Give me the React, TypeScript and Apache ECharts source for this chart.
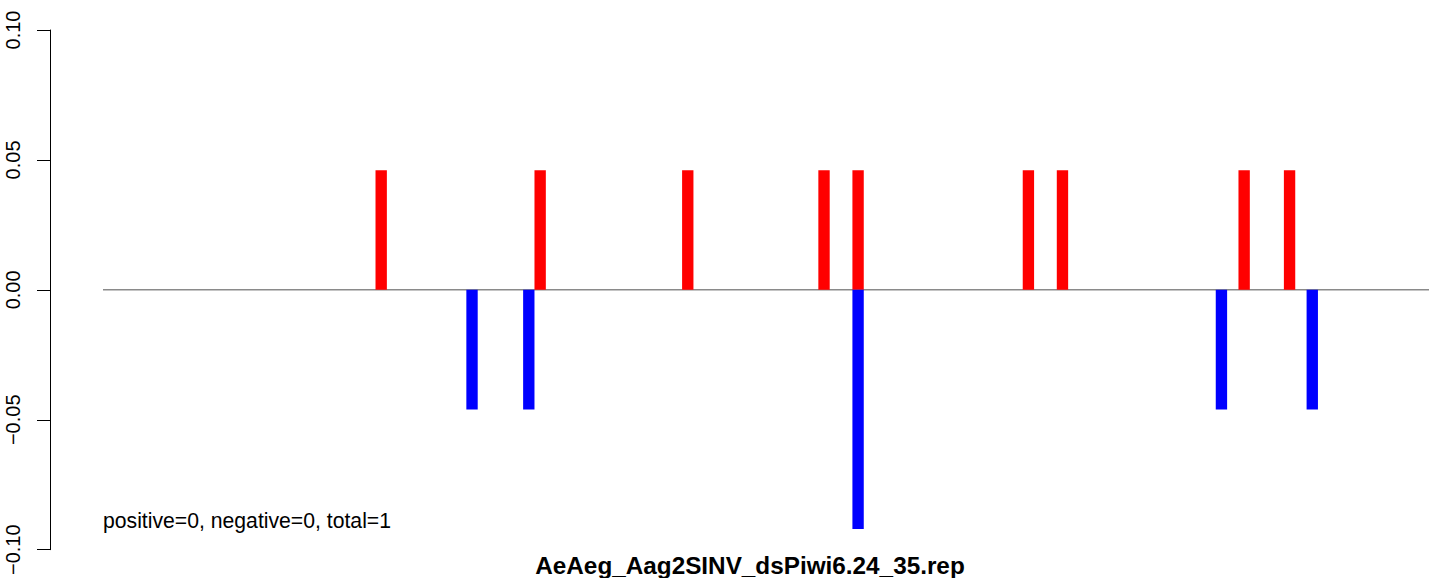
import React, { useEffect, useRef } from "react";
import * as echarts from "echarts";

// Positions (1-based, bar spans [p-1, p]) and values
const redPositions = [25, 39, 52, 64, 67, 82, 85, 101, 105];
const redValues = [0.046, 0.046, 0.046, 0.046, 0.046, 0.046, 0.046, 0.046, 0.046];
const bluePositions = [33, 38, 67, 99, 107];
const blueValues = [-0.046, -0.046, -0.092, -0.046, -0.046];
const baselineRange = [0, 117];
const yTicks = [-0.1, -0.05, 0, 0.05, 0.1];
const titleText = "AeAeg_Aag2SINV_dsPiwi6.24_35.rep";
const noteText = "positive=0, negative=0, total=1";

const FONT = "'Liberation Sans', Arial, Helvetica, sans-serif";

export default function App() {
  const ref = useRef<HTMLDivElement>(null);
  useEffect(() => {
    document.body.style.margin = "0";
    const chart = echarts.init(ref.current!, null, { renderer: "svg" });
    const makeBars = (pos: number[], vals: number[], color: string) => ({
      type: "custom",
      z: 5,
      clip: false,
      data: pos.map((p, i) => [p, vals[i]]),
      renderItem: (params: any, api: any) => {
        const p = api.value(0);
        const v = api.value(1);
        const a = api.coord([p - 1, 0]);
        const b = api.coord([p, v]);
        return {
          type: "rect",
          shape: {
            x: a[0],
            y: Math.min(a[1], b[1]),
            width: b[0] - a[0],
            height: Math.abs(b[1] - a[1]),
          },
          style: { fill: color },
        };
      },
    });
    chart.setOption({
      animation: false,
      grid: { left: 50, right: 0, top: 30, bottom: 28 },
      xAxis: {
        type: "value",
        min: -4.668,
        max: 116.78,
        show: false,
      },
      yAxis: {
        type: "value",
        min: yTicks[0],
        max: yTicks[yTicks.length - 1],
        interval: 0.05,
        axisLine: { show: true, onZero: false, lineStyle: { color: "#000", width: 1 } },
        axisTick: { show: true, length: 13, lineStyle: { color: "#000", width: 1 } },
        splitLine: { show: false },
        axisLabel: {
          rotate: 90,
          margin: 27,
          fontSize: 20,
          fontFamily: FONT,
          color: "#000",
          formatter: (v: number) => v.toFixed(2).replace("-", "\u2212"),
        },
      },
      series: [
        {
          type: "line",
          z: 1,
          data: baselineRange.map((x) => [x, 0]),
          showSymbol: false,
          symbol: "none",
          lineStyle: { color: "#8a8a8a", width: 1.5 },
          clip: true,
        },
        makeBars(redPositions, redValues, "#ff0000"),
        makeBars(bluePositions, blueValues, "#0000ff"),
      ],
      graphic: [
        {
          type: "text",
          left: 103,
          top: 510,
          style: {
            text: noteText,
            fontSize: 21.2,
            fontFamily: FONT,
            fill: "#000",
          },
        },
        {
          type: "text",
          x: 750,
          y: 553,
          style: {
            text: titleText,
            fontSize: 24.3,
            fontWeight: "bold",
            fontFamily: FONT,
            fill: "#000",
            align: "center",
            verticalAlign: "top",
          },
        },
      ],
    });
    return () => chart.dispose();
  }, []);
  return (
    <div
      ref={ref}
      style={{ position: "absolute", left: 0, top: 0, width: 1429, height: 578 }}
    />
  );
}
